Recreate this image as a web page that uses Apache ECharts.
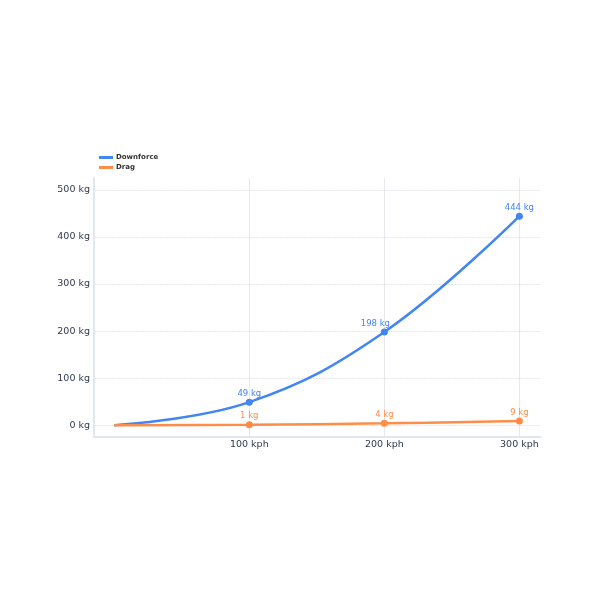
<!DOCTYPE html>
<html><head><meta charset="utf-8">
<script src="https://cdn.jsdelivr.net/npm/echarts@6/dist/echarts.min.js"></script>
<style>html,body{margin:0;padding:0;background:#fff}#c{width:600px;height:600px}</style>
</head><body><div id="c"></div>
<script>
var speeds = [0, 100, 200, 300];
var downforce = [0, 49, 198, 444];
var drag = [0, 1, 4, 9];
var xTicks = [100, 200, 300];
var yTicks = [0, 100, 200, 300, 400, 500];
var seriesNames = ['Downforce', 'Drag'];
var colors = ['#4285f4', '#fd8d49'];

function pts(vals, shiftIdx) {
  return speeds.map(function (s, i) {
    var p = { value: [s, vals[i]] };
    if (i === 0) { p.symbolSize = 0; p.label = { show: false }; }
    if (i === shiftIdx) { p.label = { offset: [-9, 0] }; }
    return p;
  });
}
var font = 'DejaVu Sans';
var chart = echarts.init(document.getElementById('c'), null, { renderer: 'canvas' });
chart.setOption({
  animation: false,
  textStyle: { fontFamily: font },
  color: colors,
  legend: {
    left: 94, top: 149, orient: 'vertical', itemGap: 3,
    itemWidth: 14, itemHeight: 3,
    icon: 'rect',
    textStyle: { fontSize: 7, fontWeight: 'bold', color: '#333', fontFamily: font, padding: [0, 0, 0, -2] },
    data: seriesNames
  },
  grid: { left: 94, right: 59, top: 178, bottom: 163 },
  xAxis: {
    type: 'value', min: -15, max: 316,
    axisLine: { show: true, onZero: false, lineStyle: { color: '#e1e7ef', width: 2 } },
    axisTick: { show: false, customValues: xTicks },
    axisLabel: { customValues: xTicks, color: '#2f3a4c', fontSize: 9.5, margin: 3,
      formatter: function (v) { return v + ' kph'; } },
    splitLine: { show: true, lineStyle: { color: '#e8e8ec', width: 1 } }
  },
  yAxis: {
    type: 'value', min: -25, max: 525,
    axisLine: { show: true, onZero: false, lineStyle: { color: '#e1e7ef', width: 2 } },
    axisTick: { show: false, customValues: yTicks },
    axisLabel: { customValues: yTicks, color: '#2f3a4c', fontSize: 9.5, margin: 4,
      formatter: function (v) { return v + ' kg'; } },
    splitLine: { show: true, lineStyle: { color: '#e8e8ec', width: 1, type: [2, 1] } }
  },
  series: [
    { name: seriesNames[0], type: 'line', smooth: 0.4, data: pts(downforce, 2),
      symbol: 'circle', symbolSize: 7, lineStyle: { width: 2.5 },
      label: { show: true, position: 'top', fontSize: 8.5, color: colors[0], distance: 0.5,
        formatter: function (p) { return p.value[1] + ' kg'; } } },
    { name: seriesNames[1], type: 'line', smooth: 0.4, data: pts(drag, -1),
      symbol: 'circle', symbolSize: 7, lineStyle: { width: 2.5 },
      label: { show: true, position: 'top', fontSize: 8.5, color: colors[1], distance: 0.5,
        formatter: function (p) { return p.value[1] + ' kg'; } } }
  ]
});
</script></body></html>
